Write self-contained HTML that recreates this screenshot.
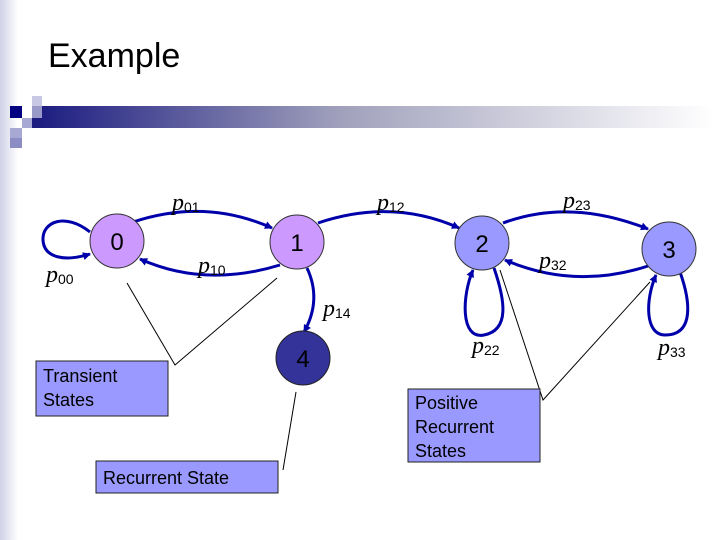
<!DOCTYPE html>
<html><head><style>
body{margin:0;background:#fff;}
svg{display:block;}
.p{font-family:"Liberation Serif",serif;font-style:italic;font-size:24px;fill:#000;}
.s{font-family:"Liberation Sans",sans-serif;font-size:14px;font-style:normal;}
.n{font-family:"Liberation Sans",sans-serif;font-size:24px;fill:#000;text-anchor:middle;}
.b{font-family:"Liberation Sans",sans-serif;font-size:18px;fill:#000;}
</style></head><body>
<svg width="720" height="540" viewBox="0 0 720 540" xmlns="http://www.w3.org/2000/svg">
<defs>
<linearGradient id="lg" x1="0" x2="1"><stop offset="0" stop-color="#d0d0e8"/><stop offset="1" stop-color="#fff"/></linearGradient>
<linearGradient id="bar" x1="0" x2="1"><stop offset="0" stop-color="#1a1a80"/><stop offset="0.45" stop-color="#a0a0bc"/><stop offset="1" stop-color="#fff"/></linearGradient>
<marker id="a" markerWidth="8" markerHeight="8" refX="7" refY="4" orient="auto" markerUnits="userSpaceOnUse"><path d="M0,0 L8,4 L0,8 z" fill="#0000aa"/></marker>
</defs>
<rect x="0" y="0" width="18" height="540" fill="url(#lg)"/>
<text x="48" y="67" font-family="Liberation Sans,sans-serif" font-size="34" fill="#000">Example</text>
<rect x="32" y="106" width="682" height="22" fill="url(#bar)"/>
<rect x="10" y="106" width="12" height="12" fill="#000080"/>
<rect x="32" y="96" width="10" height="10" fill="#c8c8e4"/>
<rect x="32" y="106" width="10" height="12" fill="#9a9ac8"/>
<rect x="22" y="118" width="10" height="10" fill="#a8a8d4"/>
<rect x="10" y="128" width="12" height="10" fill="#a8a8d4"/>
<rect x="10" y="138" width="12" height="10" fill="#8c8cc4"/>
<g fill="none" stroke="#0000aa" stroke-width="3">
<path d="M133,222 Q205,198 272,228" marker-end="url(#a)"/>
<path d="M280,265 Q205,288 140,259" marker-end="url(#a)"/>
<path d="M318,223 Q392,198 459,228" marker-end="url(#a)"/>
<path d="M503,223 Q570,198 648,229" marker-end="url(#a)"/>
<path d="M648,266 Q575,290 505,260" marker-end="url(#a)"/>
<path d="M90,232 C65,212 42,222 43,240 C44,258 65,262 90,254" marker-end="url(#a)"/>
<path d="M494,268 C505,300 510,330 484,335 C460,340 462,295 473,270" marker-end="url(#a)"/>
<path d="M680,272 C690,300 695,335 665,335 C645,335 645,300 656,275" marker-end="url(#a)"/>
<path d="M307,268 Q322,300 304,332" marker-end="url(#a)"/>
</g>
<g stroke="#000" stroke-width="1" fill="none">
<path d="M127,283 L175,365 L277,278"/>
<path d="M296,392 L283,470"/>
<path d="M500,270 L543,400 L650,282"/>
</g>
<circle cx="117" cy="241" r="27" fill="#cc99ff" stroke="#333"/>
<circle cx="297" cy="242" r="27" fill="#cc99ff" stroke="#333"/>
<circle cx="482" cy="243" r="27" fill="#9999ff" stroke="#333"/>
<circle cx="669" cy="249" r="27" fill="#9999ff" stroke="#333"/>
<circle cx="303" cy="358" r="27" fill="#333399" stroke="#222"/>
<text class="n" x="117" y="250">0</text>
<text class="n" x="297" y="251">1</text>
<text class="n" x="482" y="252">2</text>
<text class="n" x="669" y="258">3</text>
<text class="n" x="303" y="367">4</text>
<text class="p" x="172" y="210">p<tspan class="s" dy="2">01</tspan></text>
<text class="p" x="377" y="210">p<tspan class="s" dy="2">12</tspan></text>
<text class="p" x="563" y="208">p<tspan class="s" dy="2">23</tspan></text>
<text class="p" x="46" y="282">p<tspan class="s" dy="2">00</tspan></text>
<text class="p" x="198" y="273">p<tspan class="s" dy="2">10</tspan></text>
<text class="p" x="539" y="268">p<tspan class="s" dy="2">32</tspan></text>
<text class="p" x="323" y="316">p<tspan class="s" dy="2">14</tspan></text>
<text class="p" x="472" y="353">p<tspan class="s" dy="2">22</tspan></text>
<text class="p" x="658" y="355">p<tspan class="s" dy="2">33</tspan></text>
<rect x="36" y="361" width="132" height="55" fill="#9999ff" stroke="#222"/>
<text class="b" x="43" y="382">Transient</text>
<text class="b" x="43" y="406">States</text>
<rect x="96" y="461" width="182" height="32" fill="#9999ff" stroke="#222"/>
<text class="b" x="103" y="484">Recurrent State</text>
<rect x="408" y="389" width="132" height="73" fill="#9999ff" stroke="#222"/>
<text class="b" x="415" y="409">Positive</text>
<text class="b" x="415" y="433">Recurrent</text>
<text class="b" x="415" y="457">States</text>
</svg>
</body></html>
